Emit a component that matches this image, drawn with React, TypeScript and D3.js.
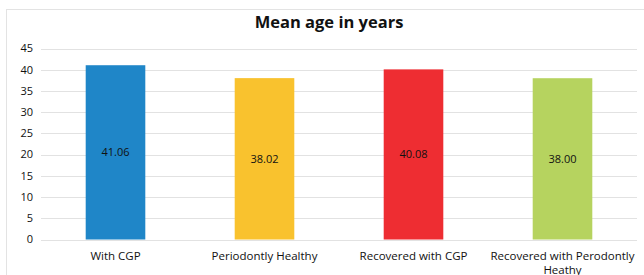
import React, { useEffect, useRef } from 'react';
import * as d3 from 'd3';

const categories = ['With CGP', 'Periodontly Healthy', 'Recovered with CGP', 'Recovered with Perodontly Heathy'];
const meanAges = [41.06, 38.02, 40.08, 38.0];
const barColors = ['#1f86c8', '#f9c22e', '#ee2d32', '#b6d35f'];
const yTicks = [0, 5, 10, 15, 20, 25, 30, 35, 40, 45];

export default function App() {
  const svgRef = useRef<SVGSVGElement>(null);

  useEffect(() => {
    if (!svgRef.current) return;
    const width = 644;
    const height = 275;
    const font = 'Open Sans, sans-serif';

    const svg = d3.select(svgRef.current);
    svg.selectAll('*').remove();
    svg.attr('width', width).attr('height', height);

    svg.append('rect').attr('width', width).attr('height', height).attr('fill', '#fff');
    svg.append('rect')
      .attr('x', 6.5).attr('y', 9.5).attr('width', 650).attr('height', 280)
      .attr('fill', 'none').attr('stroke', '#e3e3e3');

    svg.append('text')
      .attr('x', 329).attr('y', 28)
      .attr('text-anchor', 'middle')
      .attr('font-family', font).attr('font-weight', 'bold').attr('font-size', 16.5)
      .attr('fill', '#111')
      .text('Mean age in years');

    const x = d3.scaleBand().domain(categories).range([41, 637]).paddingInner(0.6).paddingOuter(0.3);
    const y = d3.scaleLinear().domain([0, 45]).range([239.5, 48.5]);

    const g = svg.append('g');

    g.selectAll('line.grid')
      .data(yTicks)
      .enter()
      .append('line')
      .attr('class', 'grid')
      .attr('x1', 41).attr('x2', 637)
      .attr('y1', d => Math.round(y(d)) + 0.5).attr('y2', d => Math.round(y(d)) + 0.5)
      .attr('stroke', '#e2e2e2').attr('stroke-width', 1);

    g.selectAll('text.ytick')
      .data(yTicks)
      .enter()
      .append('text')
      .attr('class', 'ytick')
      .attr('x', 33).attr('y', d => y(d))
      .attr('dy', '0.35em')
      .attr('text-anchor', 'end')
      .attr('font-family', font).attr('font-size', 11)
      .attr('fill', '#111')
      .text(d => d);

    const bars = g.selectAll('g.bar')
      .data(meanAges)
      .enter()
      .append('g')
      .attr('class', 'bar');

    bars.append('rect')
      .attr('x', (d, i) => x(categories[i])!)
      .attr('y', d => y(d))
      .attr('width', x.bandwidth())
      .attr('height', d => y(0) - y(d))
      .attr('fill', (d, i) => barColors[i]);

    bars.append('text')
      .attr('x', (d, i) => x(categories[i])! + x.bandwidth() / 2)
      .attr('y', d => (y(d) + y(0)) / 2)
      .attr('dy', '0.35em')
      .attr('text-anchor', 'middle')
      .attr('font-family', font).attr('font-size', 11)
      .attr('fill', '#111')
      .text(d => d.toFixed(2));

    // category labels, wrapped like the original
    const labelLines = (c: string) =>
      c === 'Recovered with Perodontly Heathy' ? ['Recovered with Perodontly', 'Heathy'] : [c];

    categories.forEach(c => {
      const t = g.append('text')
        .attr('x', x(c)! + x.bandwidth() / 2)
        .attr('y', 260)
        .attr('text-anchor', 'middle')
        .attr('font-family', font).attr('font-size', 11.5)
        .attr('fill', '#111');
      labelLines(c).forEach((line, k) => {
        t.append('tspan')
          .attr('x', x(c)! + x.bandwidth() / 2)
          .attr('dy', k === 0 ? 0 : 13.5)
          .text(line);
      });
    });
  }, []);

  return <svg ref={svgRef} style={{ position: 'absolute', left: 0, top: 0 }}></svg>;
}
